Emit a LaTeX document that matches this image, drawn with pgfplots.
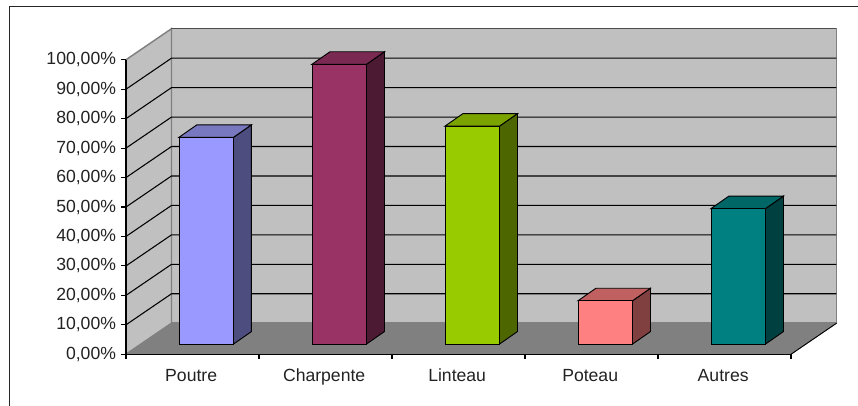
\documentclass[border=0pt]{standalone}
\usepackage{pgfplots}
\pgfplotsset{compat=1.18}
\usepackage{fontspec}
\setmainfont{Liberation Sans}
\definecolor{wall}{HTML}{C0C0C0}
\definecolor{flr}{HTML}{808080}
\definecolor{edge}{HTML}{808080}
\definecolor{txt}{HTML}{222222}
\begin{document}
\begin{tikzpicture}
\useasboundingbox (0,0) rectangle (643.5pt,304.5pt);
\draw[line width=0.7pt,black!85] (6.75pt,0) -- (6.75pt,300pt) -- (643.5pt,300pt);
\begin{axis}[
  at={(94.5pt,38.8pt)}, anchor=origin,
  scale only axis, width=498.75pt, height=220.875pt,
  xmin=0, xmax=5, ymin=0, ymax=100, clip=false,
  axis lines=left, axis line style={-,line width=1pt,black},
  axis on top,
  xtick={0,1,2,3,4,5},
  xticklabels={Poutre,Charpente,Linteau,Poteau,Autres},
  x tick label as interval,
  ytick={0,10,...,100},
  yticklabels={{0,00\%},{10,00\%},{20,00\%},{30,00\%},{40,00\%},{50,00\%},{60,00\%},{70,00\%},{80,00\%},{90,00\%},{100,00\%}},
  tick align=outside, major tick length=3.5pt,
  tick style={line width=0.8pt,black},
  tick label style={font=\fontsize{13.2pt}{15pt}\selectfont,text=txt},
  xticklabel style={yshift=-4pt,xshift=-1pt},
  yticklabel style={xshift=-0.5pt},
]
% walls and floor
\addplot[fill=wall,draw=edge,line width=1.1pt] coordinates {(0.342,10.54) (5.342,10.54) (5.342,110.54) (0.342,110.54)} -- cycle;
\addplot[fill=wall,draw=edge,line width=1.1pt] coordinates {(0,0) (0.342,10.54) (0.342,110.54) (0,100)} -- cycle;
\addplot[fill=flr,draw=flr,line width=0.5pt] coordinates {(0,0) (5,0) (5.342,10.54) (0.342,10.54)} -- cycle;
\addplot[black,line width=0.7pt] coordinates {(5,0) (5.342,10.54)};
% grid lines
\addplot[black,line width=0.8pt] coordinates {(0,10) (0.342,20.54) (5.342,20.54)};
\addplot[black,line width=0.8pt] coordinates {(0,20) (0.342,30.54) (5.342,30.54)};
\addplot[black,line width=0.8pt] coordinates {(0,30) (0.342,40.54) (5.342,40.54)};
\addplot[black,line width=0.8pt] coordinates {(0,40) (0.342,50.54) (5.342,50.54)};
\addplot[black,line width=0.8pt] coordinates {(0,50) (0.342,60.54) (5.342,60.54)};
\addplot[black,line width=0.8pt] coordinates {(0,60) (0.342,70.54) (5.342,70.54)};
\addplot[black,line width=0.8pt] coordinates {(0,70) (0.342,80.54) (5.342,80.54)};
\addplot[black,line width=0.8pt] coordinates {(0,80) (0.342,90.54) (5.342,90.54)};
\addplot[black,line width=0.8pt] coordinates {(0,90) (0.342,100.54) (5.342,100.54)};
\addplot[black!70,line width=0.9pt] coordinates {(0.342,110.54) (5.342,110.54)};
% Poutre
\addplot[xshift=10.31pt,yshift=7.65pt,fill={rgb,255:red,77;green,77;blue,128},draw=black,line width=0.7pt] coordinates {(0.705,0) (0.84,4.25) (0.84,74.45) (0.705,70.2)} -- cycle;
\addplot[xshift=10.31pt,yshift=7.65pt,fill={rgb,255:red,120;green,120;blue,192},draw=black,line width=0.7pt] coordinates {(0.295,70.2) (0.705,70.2) (0.84,74.45) (0.43,74.45)} -- cycle;
\addplot[ybar,bar width=40.875pt,xshift=10.31pt,yshift=7.65pt,fill={rgb,255:red,153;green,153;blue,255},draw=black,line width=0.7pt] coordinates {(0.5,70.2)};
% Charpente
\addplot[xshift=10.31pt,yshift=7.65pt,fill={rgb,255:red,77;green,26;blue,51},draw=black,line width=0.7pt] coordinates {(1.705,0) (1.84,4.25) (1.84,99.25) (1.705,95)} -- cycle;
\addplot[xshift=10.31pt,yshift=7.65pt,fill={rgb,255:red,122;green,41;blue,82},draw=black,line width=0.7pt] coordinates {(1.295,95) (1.705,95) (1.84,99.25) (1.43,99.25)} -- cycle;
\addplot[ybar,bar width=40.875pt,xshift=10.31pt,yshift=7.65pt,fill={rgb,255:red,153;green,51;blue,102},draw=black,line width=0.7pt] coordinates {(1.5,95)};
% Linteau
\addplot[xshift=10.31pt,yshift=7.65pt,fill={rgb,255:red,77;green,102;blue,0},draw=black,line width=0.7pt] coordinates {(2.705,0) (2.84,4.25) (2.84,78.25) (2.705,74)} -- cycle;
\addplot[xshift=10.31pt,yshift=7.65pt,fill={rgb,255:red,122;green,163;blue,0},draw=black,line width=0.7pt] coordinates {(2.295,74) (2.705,74) (2.84,78.25) (2.43,78.25)} -- cycle;
\addplot[ybar,bar width=40.875pt,xshift=10.31pt,yshift=7.65pt,fill={rgb,255:red,153;green,204;blue,0},draw=black,line width=0.7pt] coordinates {(2.5,74)};
% Poteau
\addplot[xshift=10.31pt,yshift=7.65pt,fill={rgb,255:red,128;green,64;blue,64},draw=black,line width=0.7pt] coordinates {(3.705,0) (3.84,4.25) (3.84,18.95) (3.705,14.7)} -- cycle;
\addplot[xshift=10.31pt,yshift=7.65pt,fill={rgb,255:red,192;green,96;blue,96},draw=black,line width=0.7pt] coordinates {(3.295,14.7) (3.705,14.7) (3.84,18.95) (3.43,18.95)} -- cycle;
\addplot[ybar,bar width=40.875pt,xshift=10.31pt,yshift=7.65pt,fill={rgb,255:red,255;green,128;blue,128},draw=black,line width=0.7pt] coordinates {(3.5,14.7)};
% Autres
\addplot[xshift=10.31pt,yshift=7.65pt,fill={rgb,255:red,0;green,64;blue,64},draw=black,line width=0.7pt] coordinates {(4.705,0) (4.84,4.25) (4.84,50.25) (4.705,46)} -- cycle;
\addplot[xshift=10.31pt,yshift=7.65pt,fill={rgb,255:red,0;green,102;blue,102},draw=black,line width=0.7pt] coordinates {(4.295,46) (4.705,46) (4.84,50.25) (4.43,50.25)} -- cycle;
\addplot[ybar,bar width=40.875pt,xshift=10.31pt,yshift=7.65pt,fill={rgb,255:red,0;green,128;blue,128},draw=black,line width=0.7pt] coordinates {(4.5,46)};
\end{axis}
\end{tikzpicture}
\end{document}
